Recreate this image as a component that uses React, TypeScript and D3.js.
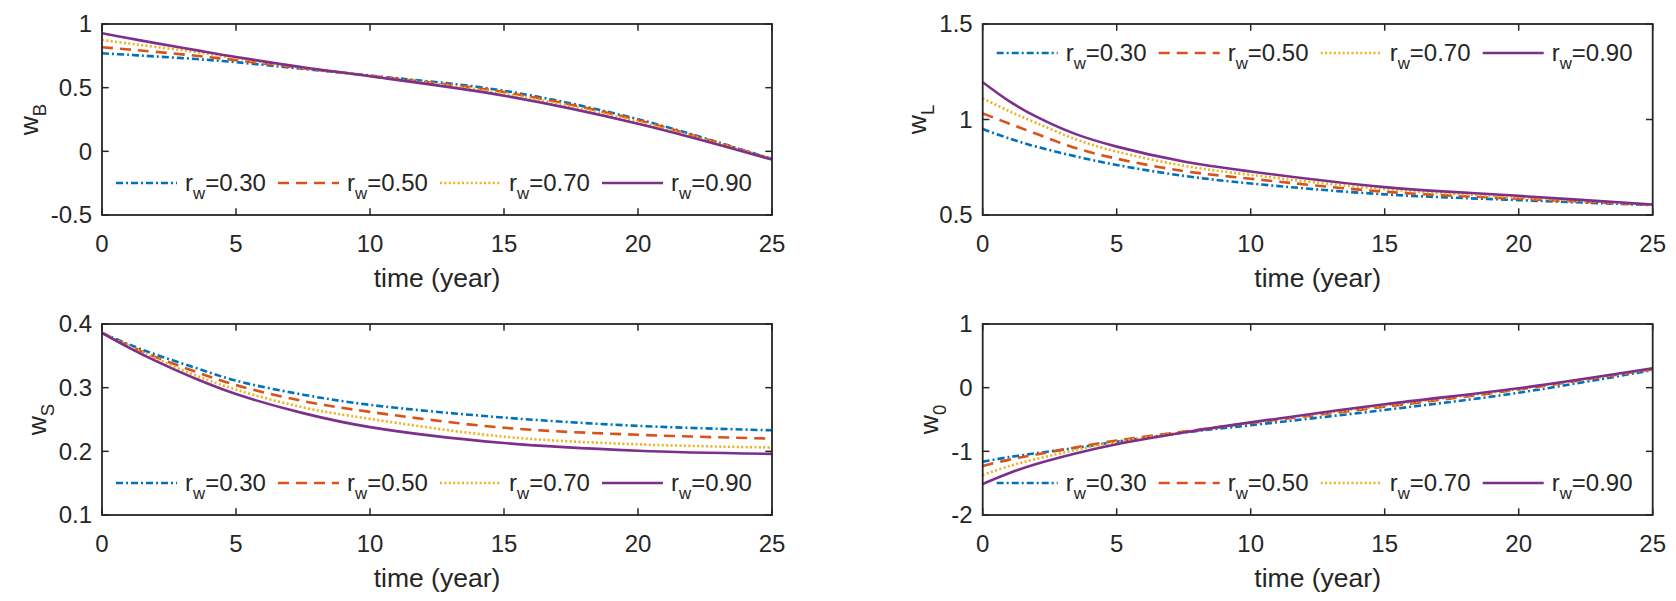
import React from "react";
import * as d3 from "d3";

// sample times (year)
const time = [0, 1, 2, 3.5, 5, 7.5, 10, 15, 20, 25];
const xTicks = [0, 5, 10, 15, 20, 25];
const rwLabels = ["0.30", "0.50", "0.70", "0.90"];

// w_B
const wB30 = [0.77, 0.758, 0.745, 0.725, 0.7, 0.648, 0.595, 0.476, 0.252, -0.06];
const wB50 = [0.817, 0.8, 0.781, 0.751, 0.716, 0.652, 0.593, 0.465, 0.245, -0.062];
const wB70 = [0.874, 0.847, 0.82, 0.78, 0.731, 0.656, 0.591, 0.453, 0.233, -0.063];
const wB90 = [0.927, 0.888, 0.85, 0.795, 0.741, 0.66, 0.59, 0.437, 0.217, -0.065];
const wBTicks = [-0.5, 0, 0.5, 1];

// w_L
const wL30 = [0.95, 0.9, 0.858, 0.806, 0.762, 0.705, 0.665, 0.608, 0.578, 0.552];
const wL50 = [1.032, 0.978, 0.925, 0.849, 0.795, 0.73, 0.69, 0.622, 0.585, 0.553];
const wL70 = [1.111, 1.043, 0.982, 0.895, 0.832, 0.758, 0.71, 0.635, 0.592, 0.555];
const wL90 = [1.195, 1.095, 1.015, 0.922, 0.858, 0.78, 0.728, 0.646, 0.6, 0.555];
const wLTicks = [0.5, 1, 1.5];

// w_S
const wS30 = [0.386, 0.368, 0.352, 0.331, 0.311, 0.289, 0.273, 0.253, 0.24, 0.233];
const wS50 = [0.386, 0.366, 0.348, 0.325, 0.304, 0.279, 0.262, 0.237, 0.226, 0.22];
const wS70 = [0.386, 0.365, 0.346, 0.319, 0.297, 0.269, 0.251, 0.223, 0.211, 0.206];
const wS90 = [0.386, 0.363, 0.342, 0.314, 0.29, 0.26, 0.238, 0.213, 0.201, 0.196];
const wSTicks = [0.1, 0.2, 0.3, 0.4];

// w_0
const w030 = [-1.162, -1.09, -1.03, -0.945, -0.85, -0.705, -0.59, -0.35, -0.08, 0.277];
const w050 = [-1.23, -1.13, -1.05, -0.935, -0.83, -0.69, -0.555, -0.3, -0.03, 0.29];
const w070 = [-1.372, -1.23, -1.12, -0.975, -0.855, -0.7, -0.55, -0.28, -0.02, 0.295];
const w090 = [-1.513, -1.34, -1.2, -1.03, -0.89, -0.705, -0.545, -0.26, -0.01, 0.304];
const w0Ticks = [-2, -1, 0, 1];

const colors = ["#0072BD", "#D95319", "#EDB120", "#7E2F8E"];
const dashes = ["7 3 2 3", "11 7", "2 2.4", null];

const W = 670;
const H = 191;
const INK = "#262626";
const FONT = "'Liberation Sans', Arial, Helvetica, sans-serif";
const TICK_FS = 24;
const LABEL_FS = 26.5;

const panels = [
  { id: "B", sub: "B", left: 102, top: 24, ticks: wBTicks, series: [wB30, wB50, wB70, wB90], legend: "bottom" },
  { id: "L", sub: "L", left: 982.7, top: 24, ticks: wLTicks, series: [wL30, wL50, wL70, wL90], legend: "top" },
  { id: "S", sub: "S", left: 102, top: 324, ticks: wSTicks, series: [wS30, wS50, wS70, wS90], legend: "bottom" },
  { id: "0", sub: "0", left: 982.7, top: 324, ticks: w0Ticks, series: [w030, w050, w070, w090], legend: "bottom" },
];

function textWidth(s: string, size: number) {
  const c = document.createElement("canvas").getContext("2d");
  if (!c) return s.length * size * 0.55;
  c.font = `${size}px ${FONT}`;
  return c.measureText(s).width;
}

function Panel({ p }: { p: (typeof panels)[number] }) {
  const x = d3.scaleLinear().domain([0, 25]).range([0, W]);
  const y = d3
    .scaleLinear()
    .domain([p.ticks[0], p.ticks[p.ticks.length - 1]])
    .range([H, 0]);
  const line = d3
    .line<number>()
    .x((_, i) => x(time[i]))
    .y((d) => y(d))
    .curve(d3.curveCatmullRom.alpha(0.5));

  const tl = 6.7;
  const maxLab = d3.max(p.ticks, (t) => textWidth(String(t), TICK_FS)) || 30;
  const ylabX = -10 - maxLab - 13;
  const legY = p.legend === "top" ? 29 : H - 32;

  return (
    <g transform={`translate(${p.left},${p.top})`}>
      <defs>
        <clipPath id={`clip${p.id}`}>
          <rect x={0} y={0} width={W} height={H} />
        </clipPath>
      </defs>
      <g clipPath={`url(#clip${p.id})`}>
        {p.series.map((s, i) => (
          <path
            key={i}
            d={line(s) || ""}
            fill="none"
            stroke={colors[i]}
            strokeWidth={2.6}
            strokeDasharray={dashes[i] || undefined}
          />
        ))}
      </g>
      {/* box and ticks */}
      <rect x={0} y={0} width={W} height={H} fill="none" stroke={INK} strokeWidth={1.8} />
      {xTicks.map((t) => (
        <g key={`x${t}`}>
          <line x1={x(t)} x2={x(t)} y1={H} y2={H - tl} stroke={INK} strokeWidth={1.5} />
          <line x1={x(t)} x2={x(t)} y1={0} y2={tl} stroke={INK} strokeWidth={1.5} />
          <text x={x(t)} y={H + 37} textAnchor="middle" fontSize={TICK_FS} fill={INK}>
            {String(t)}
          </text>
        </g>
      ))}
      {p.ticks.map((t) => (
        <g key={`y${t}`}>
          <line x1={0} x2={tl} y1={y(t)} y2={y(t)} stroke={INK} strokeWidth={1.5} />
          <line x1={W} x2={W - tl} y1={y(t)} y2={y(t)} stroke={INK} strokeWidth={1.5} />
          <text x={-10} y={y(t)} dy="0.35em" textAnchor="end" fontSize={TICK_FS} fill={INK}>
            {String(t)}
          </text>
        </g>
      ))}
      <text x={W / 2} y={H + 72} textAnchor="middle" fontSize={LABEL_FS} fill={INK}>
        time (year)
      </text>
      <text
        transform={`translate(${ylabX},${H / 2}) rotate(-90)`}
        textAnchor="middle"
        fontSize={LABEL_FS}
        fill={INK}
      >
        w
        <tspan fontSize={LABEL_FS * 0.7} dy={8}>
          {p.sub}
        </tspan>
      </text>
      {/* legend */}
      {rwLabels.map((lab, i) => {
        const lx = 14 + i * 162;
        return (
          <g key={lab}>
            <line
              x1={lx}
              x2={lx + 61}
              y1={legY}
              y2={legY}
              stroke={colors[i]}
              strokeWidth={2.6}
              strokeDasharray={dashes[i] || undefined}
            />
            <text x={lx + 69} y={legY} dy="0.35em" fontSize={TICK_FS} fill={INK}>
              r
              <tspan fontSize={TICK_FS * 0.7} dy={8}>
                w
              </tspan>
              <tspan dy={-8}>={lab}</tspan>
            </text>
          </g>
        );
      })}
    </g>
  );
}

export default function App() {
  return (
    <svg
      width={1676}
      height={601}
      style={{ position: "absolute", left: 0, top: 0, background: "#fff" }}
      fontFamily={FONT}
    >
      <rect width={1676} height={601} fill="#fff" />
      {panels.map((p) => (
        <Panel key={p.id} p={p} />
      ))}
    </svg>
  );
}
